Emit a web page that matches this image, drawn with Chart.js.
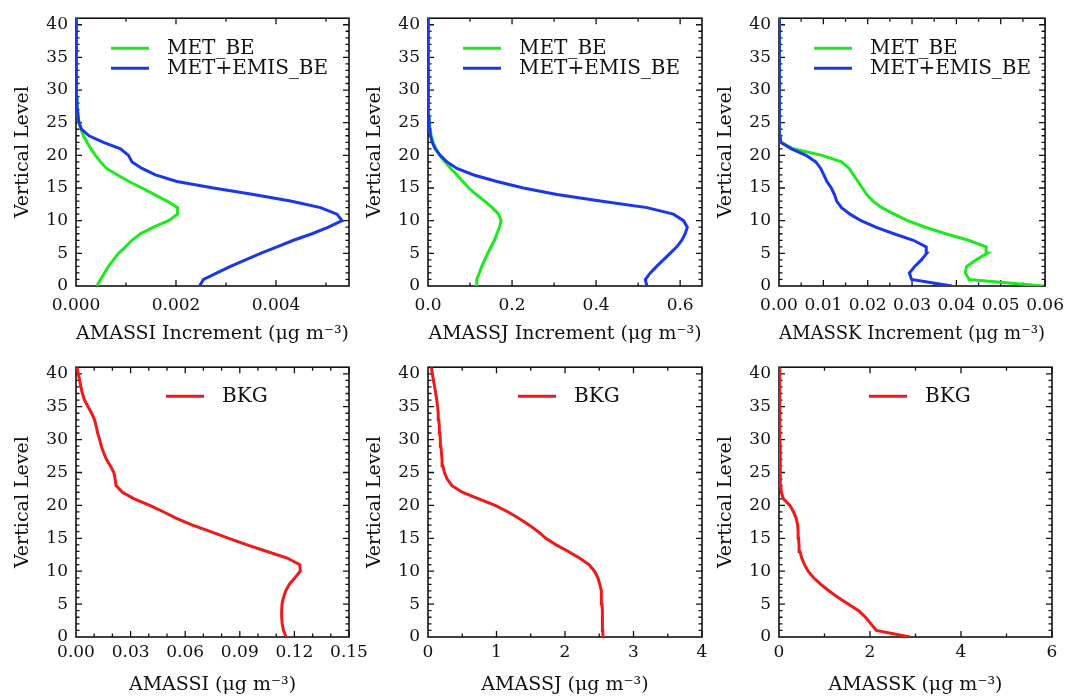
<!DOCTYPE html>
<html>
<head>
<meta charset="utf-8">
<script src="https://cdn.jsdelivr.net/npm/chart.js@4/dist/chart.umd.min.js"></script>
<style>
html,body{margin:0;padding:0;background:#fff;width:1073px;height:698px;overflow:hidden;position:relative}
canvas{position:absolute}
</style>
</head>
<body>
<canvas id="p1" width="380" height="349" style="left:0;top:0"></canvas>
<canvas id="p2" width="380" height="349" style="left:352px;top:0"></canvas>
<canvas id="p3" width="370" height="349" style="left:703px;top:0"></canvas>
<canvas id="p4" width="380" height="349" style="left:0;top:349px"></canvas>
<canvas id="p5" width="380" height="349" style="left:352px;top:349px"></canvas>
<canvas id="p6" width="370" height="349" style="left:703px;top:349px"></canvas>
<script>
// ---------------- data ----------------
const LEVELS = [0,1,2,3,4,5,6,7,8,9,10,11,12,13,14,15,16,17,18,19,20,21,22,23,24,25,26,27,28,29,30,31,32,33,34,35,36,37,38,39,40,41];
const Y_TICKS = [0,5,10,15,20,25,30,35,40];

const AMASSI_MET_BE = [0.00042,0.00049,0.00057,0.00065,0.00075,0.00085,0.00099,0.00112,0.00129,0.00155,0.00185,0.00203,0.00203,0.00182,0.00157,0.00132,0.00106,0.00083,0.00061,0.00049,0.00039,0.00030,0.00022,0.00015,0.00010,0.00006,0.00004,0.00003,0.00002,0.000015,0.000012,0.00001,0.000008,0.000007,0.000006,0.000005,0.000004,0.000004,0.000003,0.000003,0.000002,0.000002];
const AMASSI_METEMIS_BE = [0.00247,0.00255,0.00282,0.00309,0.00339,0.00369,0.00402,0.00435,0.00472,0.00505,0.00532,0.00522,0.00489,0.00429,0.00355,0.00275,0.00202,0.00159,0.00132,0.00112,0.00105,0.00089,0.00055,0.00026,0.00011,0.00006,0.00004,0.00003,0.00002,0.000015,0.000012,0.00001,0.000009,0.000008,0.000007,0.000006,0.000005,0.000005,0.000004,0.000004,0.000003,0.000003];

const AMASSJ_MET_BE = [0.115,0.116,0.122,0.128,0.135,0.142,0.150,0.158,0.164,0.170,0.174,0.168,0.153,0.135,0.115,0.097,0.083,0.069,0.054,0.040,0.028,0.019,0.012,0.008,0.005,0.003,0.002,0.0015,0.001,0.001,0.0008,0.0007,0.0006,0.0005,0.0005,0.0004,0.0004,0.0003,0.0003,0.0002,0.0002,0.0002];
const AMASSJ_METEMIS_BE = [0.521,0.517,0.529,0.544,0.560,0.576,0.592,0.604,0.612,0.617,0.608,0.584,0.521,0.410,0.307,0.227,0.164,0.109,0.069,0.045,0.029,0.017,0.010,0.006,0.004,0.003,0.002,0.0015,0.001,0.001,0.0008,0.0007,0.0006,0.0005,0.0005,0.0004,0.0004,0.0003,0.0003,0.0002,0.0002,0.0002];

const AMASSK_MET_BE = [0.0596,0.0429,0.0420,0.0423,0.0445,0.0469,0.0467,0.0427,0.0376,0.0330,0.0290,0.0260,0.0232,0.0212,0.0198,0.0188,0.0178,0.0168,0.0158,0.0141,0.0097,0.0032,0.0004,0.0002,0.00015,0.0001,0.0001,0.0001,0.0001,0.0001,0.0001,0.0001,0.00008,0.00008,0.00008,0.00007,0.00007,0.00006,0.00006,0.00005,0.00005,0.00005];
const AMASSK_METEMIS_BE = [0.0390,0.0299,0.0294,0.0306,0.0321,0.0333,0.0332,0.0303,0.0259,0.0218,0.0185,0.0160,0.0141,0.0130,0.0125,0.0118,0.0108,0.0101,0.0094,0.0083,0.0061,0.0028,0.0004,0.0002,0.00015,0.0001,0.0001,0.0001,0.0001,0.0001,0.0001,0.0001,0.00008,0.00008,0.00008,0.00007,0.00007,0.00006,0.00006,0.00005,0.00005,0.00005];

const AMASSI_BKG = [0.1154,0.1140,0.1133,0.1130,0.1130,0.1132,0.1140,0.1152,0.1172,0.1203,0.1232,0.1230,0.1160,0.1050,0.0940,0.0840,0.0740,0.0640,0.0555,0.0482,0.0405,0.0320,0.0255,0.0220,0.0215,0.0208,0.0189,0.0167,0.0152,0.0139,0.0130,0.0119,0.0111,0.0102,0.0086,0.0066,0.0047,0.0035,0.0027,0.0020,0.0013,0.0005];
const AMASSJ_BKG = [2.555,2.552,2.549,2.546,2.543,2.540,2.535,2.526,2.508,2.480,2.430,2.350,2.210,2.050,1.870,1.720,1.610,1.480,1.330,1.170,0.980,0.740,0.500,0.350,0.280,0.240,0.218,0.205,0.196,0.188,0.180,0.172,0.165,0.157,0.149,0.140,0.128,0.113,0.097,0.080,0.062,0.050];
const AMASSK_BKG = [2.88,2.14,2.02,1.90,1.75,1.52,1.30,1.10,0.92,0.76,0.64,0.56,0.50,0.46,0.44,0.43,0.42,0.41,0.38,0.32,0.24,0.095,0.05,0.04,0.035,0.03,0.028,0.026,0.024,0.022,0.020,0.019,0.018,0.017,0.016,0.015,0.014,0.013,0.012,0.011,0.010,0.010];

const X_TICKS_I_INC = [0, 0.002, 0.004];
const X_TICKS_J_INC = [0, 0.2, 0.4, 0.6];
const X_TICKS_K_INC = [0, 0.01, 0.02, 0.03, 0.04, 0.05, 0.06];
const X_TICKS_I = [0, 0.03, 0.06, 0.09, 0.12, 0.15];
const X_TICKS_J = [0, 1, 2, 3, 4];
const X_TICKS_K = [0, 2, 4, 6];

const LABEL_MET = 'MET_BE';
const LABEL_METEMIS = 'MET+EMIS_BE';
const LABEL_BKG = 'BKG';

// ---------------- styling ----------------
const FONT = '"DejaVu Serif", "Liberation Serif", serif';
const GREEN = 'rgb(30,232,30)';
const BLUE = 'rgb(25,55,235)';
const RED = 'rgb(240,25,25)';
const INK = '#111';

const framePlugin = {
  id: 'frame',
  beforeDatasetsDraw(chart, args, o) {
    const {ctx, chartArea: a, scales: {x, y}} = chart;
    ctx.save();
    ctx.strokeStyle = INK;
    ctx.lineWidth = 1.3;
    const tick = (isX, v, major) => {
      const len = major ? 6 : 3.5;
      ctx.beginPath();
      if (isX) {
        const p = x.getPixelForValue(v);
        ctx.moveTo(p, a.bottom); ctx.lineTo(p, a.bottom - len);
        ctx.moveTo(p, a.top); ctx.lineTo(p, a.top + len);
      } else {
        const p = y.getPixelForValue(v);
        ctx.moveTo(a.left, p); ctx.lineTo(a.left + len, p);
        ctx.moveTo(a.right, p); ctx.lineTo(a.right - len, p);
      }
      ctx.stroke();
    };
    const nx = Math.floor(o.xMax / o.xMinor + 1e-6);
    for (let i = 1; i <= nx; i++) {
      const v = i * o.xMinor;
      const r = v / o.xMajor;
      tick(true, v, Math.abs(r - Math.round(r)) < 1e-6);
    }
    for (let i = 1; i <= 40; i++) tick(false, i, i % 5 === 0);
    ctx.lineWidth = 1.6;
    ctx.strokeRect(a.left, a.top, a.right - a.left, a.bottom - a.top);
    ctx.restore();
  }
};

const legendPlugin = {
  id: 'inlegend',
  afterDatasetsDraw(chart, args, o) {
    const {ctx, chartArea: a} = chart;
    ctx.save();
    ctx.font = '20px ' + FONT;
    ctx.textBaseline = 'middle';
    ctx.textAlign = 'left';
    chart.data.datasets.forEach((ds, i) => {
      const yy = a.top + o.top + i * 20;
      ctx.strokeStyle = ds.borderColor;
      ctx.lineWidth = 3;
      ctx.beginPath();
      ctx.moveTo(a.left + o.x0, yy);
      ctx.lineTo(a.left + o.x0 + 38, yy);
      ctx.stroke();
      ctx.fillStyle = INK;
      ctx.fillText(ds.label, a.left + o.x0 + 56, yy + 1);
    });
    ctx.restore();
  }
};

function makePanel(id, cfg) {
  const datasets = cfg.series.map(s => ({
    label: s.label,
    data: LEVELS.map((lv, i) => ({x: s.values[i], y: lv})),
    borderColor: s.color,
    backgroundColor: s.color,
    borderWidth: 3,
    pointRadius: 0,
    showLine: true,
    fill: false,
    tension: 0,
    order: s.order
  }));
  return new Chart(document.getElementById(id), {
    type: 'scatter',
    data: {datasets},
    plugins: [framePlugin, legendPlugin],
    options: {
      responsive: false,
      animation: false,
      devicePixelRatio: 1,
      layout: {padding: {left: 0, right: cfg.padR, top: cfg.padT, bottom: 0}},
      plugins: {
        legend: {display: false},
        tooltip: {enabled: false},
        frame: {xMax: cfg.xMax, xMinor: cfg.xMinor, xMajor: cfg.xMajor},
        inlegend: {x0: cfg.legX, top: cfg.legTop}
      },
      scales: {
        x: {
          type: 'linear', min: 0, max: cfg.xMax,
          grid: {display: false, drawTicks: false},
          border: {display: false},
          afterBuildTicks: s => { s.ticks = cfg.xTicks.map(v => ({value: v})); },
          afterFit: s => { s.height = cfg.xH; },
          ticks: {
            autoSkip: false, maxRotation: 0, color: INK,
            padding: cfg.xTickPad,
            font: {family: FONT, size: 17},
            callback: v => Number(v).toFixed(cfg.dec)
          },
          title: {display: true, text: cfg.xTitle, color: INK,
                  font: {family: FONT, size: 19}, padding: {top: 0, bottom: cfg.xTitlePad}}
        },
        y: {
          type: 'linear', min: 0, max: 41,
          grid: {display: false, drawTicks: false},
          border: {display: false},
          afterBuildTicks: s => { s.ticks = Y_TICKS.map(v => ({value: v})); },
          afterFit: s => { s.width = 76; },
          ticks: {color: INK, padding: 8, font: {family: FONT, size: 17}},
          title: {display: true, text: 'Vertical Level', color: INK,
                  font: {family: FONT, size: 19}, padding: {top: 12, bottom: 0}}
        }
      }
    }
  });
}

const UNIT = ' (\u03BCg m\u207B\u00B3)';
const row1 = {padT: 13, xH: 63, xTickPad: 9, xTitlePad: 4, legX: 35, legTop: 30};
const row2 = {padT: 15, xH: 61, xTickPad: 5, xTitlePad: 2, legX: 90, legTop: 29};

makePanel('p1', Object.assign({}, row1, {padR: 31, xMax: 0.00546, xMinor: 0.001, xMajor: 0.002, xTicks: X_TICKS_I_INC, dec: 3,
  xTitle: 'AMASSI Increment' + UNIT,
  series: [{label: LABEL_MET, values: AMASSI_MET_BE, color: GREEN, order: 2},
           {label: LABEL_METEMIS, values: AMASSI_METEMIS_BE, color: BLUE, order: 1}]}));
makePanel('p2', Object.assign({}, row1, {padR: 30, xMax: 0.652, xMinor: 0.1, xMajor: 0.2, xTicks: X_TICKS_J_INC, dec: 1,
  xTitle: 'AMASSJ Increment' + UNIT,
  series: [{label: LABEL_MET, values: AMASSJ_MET_BE, color: GREEN, order: 2},
           {label: LABEL_METEMIS, values: AMASSJ_METEMIS_BE, color: BLUE, order: 1}]}));
makePanel('p3', Object.assign({}, row1, {padR: 21, xMax: 0.06, xMinor: 0.005, xMajor: 0.01, xTicks: X_TICKS_K_INC, dec: 2,
  xTitle: 'AMASSK Increment' + UNIT,
  series: [{label: LABEL_MET, values: AMASSK_MET_BE, color: GREEN, order: 2},
           {label: LABEL_METEMIS, values: AMASSK_METEMIS_BE, color: BLUE, order: 1}]}));
makePanel('p4', Object.assign({}, row2, {padR: 31, xMax: 0.15, xMinor: 0.01, xMajor: 0.03, xTicks: X_TICKS_I, dec: 2,
  xTitle: 'AMASSI' + UNIT,
  series: [{label: LABEL_BKG, values: AMASSI_BKG, color: RED, order: 1}]}));
makePanel('p5', Object.assign({}, row2, {padR: 30, xMax: 4, xMinor: 0.5, xMajor: 1, xTicks: X_TICKS_J, dec: 0,
  xTitle: 'AMASSJ' + UNIT,
  series: [{label: LABEL_BKG, values: AMASSJ_BKG, color: RED, order: 1}]}));
makePanel('p6', Object.assign({}, row2, {padR: 21, xMax: 6, xMinor: 1, xMajor: 2, xTicks: X_TICKS_K, dec: 0,
  xTitle: 'AMASSK' + UNIT,
  series: [{label: LABEL_BKG, values: AMASSK_BKG, color: RED, order: 1}]}));
</script>
</body>
</html>
